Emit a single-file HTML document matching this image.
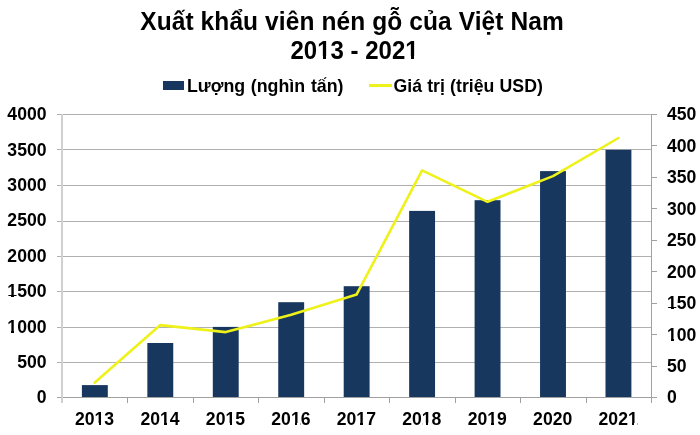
<!DOCTYPE html>
<html><head><meta charset="utf-8">
<style>
html,body{margin:0;padding:0;background:#fff;}
body{width:700px;height:435px;overflow:hidden;position:relative;font-family:"Liberation Sans",sans-serif;font-weight:bold;color:#000;}
.t{position:absolute;white-space:nowrap;line-height:1;filter:grayscale(1);}
.lg{font-size:17.8px;word-spacing:0.8px;}
.yl{width:60px;text-align:right;font-size:17.6px;}
.yr{font-size:17.6px;}
.xl{width:60px;text-align:center;font-size:17.6px;}
.one{position:relative;}
.one::before,.one::after{content:"";position:absolute;bottom:0.205em;height:0.112em;background:#fff;}
.one::before{left:0.05em;width:0.183em;}
.one::after{left:0.3706em;width:0.172em;}
svg{position:absolute;left:0;top:0;}
</style></head><body>
<svg width="700" height="435" viewBox="0 0 700 435">

<g fill="#b0b0b0">
<rect x="57" y="114" width="594.5" height="1"/>
<rect x="57" y="149" width="594.5" height="1"/>
<rect x="57" y="185" width="594.5" height="1"/>
<rect x="57" y="221" width="594.5" height="1"/>
<rect x="57" y="256" width="594.5" height="1"/>
<rect x="57" y="291" width="594.5" height="1"/>
<rect x="57" y="327" width="594.5" height="1"/>
<rect x="57" y="362" width="594.5" height="1"/>
</g>
<g fill="#17375e">
<rect x="81.90" y="385.10" width="25.90" height="12.40"/>
<rect x="147.35" y="343.00" width="25.90" height="54.50"/>
<rect x="212.80" y="326.90" width="25.90" height="70.60"/>
<rect x="278.25" y="302.20" width="25.90" height="95.30"/>
<rect x="343.70" y="286.20" width="25.90" height="111.30"/>
<rect x="409.15" y="210.90" width="25.90" height="186.60"/>
<rect x="474.60" y="200.20" width="25.90" height="197.30"/>
<rect x="540.05" y="171.10" width="25.90" height="226.40"/>
<rect x="605.50" y="149.80" width="25.90" height="247.70"/>
</g>
<g fill="#a0a0a0">
<rect x="57" y="397" width="599" height="1"/>
<rect x="651" y="114" width="1" height="289"/>
<rect x="652" y="397" width="5" height="1"/>
<rect x="652" y="366" width="5" height="1"/>
<rect x="652" y="334" width="5" height="1"/>
<rect x="652" y="303" width="5" height="1"/>
<rect x="652" y="271" width="5" height="1"/>
<rect x="652" y="240" width="5" height="1"/>
<rect x="652" y="208" width="5" height="1"/>
<rect x="652" y="177" width="5" height="1"/>
<rect x="652" y="145" width="5" height="1"/>
<rect x="652" y="114" width="5" height="1"/>
<rect x="127" y="398" width="1" height="5"/>
<rect x="193" y="398" width="1" height="5"/>
<rect x="258" y="398" width="1" height="5"/>
<rect x="324" y="398" width="1" height="5"/>
<rect x="389" y="398" width="1" height="5"/>
<rect x="455" y="398" width="1" height="5"/>
<rect x="520" y="398" width="1" height="5"/>
<rect x="586" y="398" width="1" height="5"/>
</g>
<rect x="61" y="114" width="2" height="289" fill="#d0d0d0"/>
<polyline fill="none" stroke="#eef21a" stroke-width="2.6" stroke-linejoin="round" stroke-linecap="round" points="94.85,382.60 160.30,325.10 225.75,332.10 291.20,314.80 356.65,294.40 422.10,170.40 487.55,201.80 553.00,176.10 618.45,138.00"/>
<rect x="163" y="81" width="21" height="9" fill="#17375e"/>
<rect x="369" y="84" width="23" height="3" fill="#eef21a"/>
</svg>
<div class="t" style="left:140.2px;top:9.5px;font-size:24.5px;letter-spacing:0.1px;transform:scaleY(1.05);transform-origin:0 80%">Xuất khẩu viên nén gỗ của Việt Nam</div>
<div class="t" style="left:290.5px;top:38.5px;font-size:24px;transform:scaleY(1.05);transform-origin:0 80%">20<span class="one">1</span>3 - 202<span class="one">1</span></div>
<div class="t lg" style="left:187px;top:78px">Lượng (nghìn tấn)</div>
<div class="t lg" style="left:393.5px;top:78px;font-size:17.7px;word-spacing:0.3px">Giá trị (triệu USD)</div>
<div class="t yl" style="left:-13.5px;top:389.30px">0</div>
<div class="t yl" style="left:-13.5px;top:353.92px">500</div>
<div class="t yl" style="left:-13.5px;top:318.55px"><span class="one">1</span>000</div>
<div class="t yl" style="left:-13.5px;top:283.17px"><span class="one">1</span>500</div>
<div class="t yl" style="left:-13.5px;top:247.80px">2000</div>
<div class="t yl" style="left:-13.5px;top:212.43px">2500</div>
<div class="t yl" style="left:-13.5px;top:177.05px">3000</div>
<div class="t yl" style="left:-13.5px;top:141.68px">3500</div>
<div class="t yl" style="left:-13.5px;top:106.30px">4000</div>
<div class="t yr" style="left:667px;top:389.40px">0</div>
<div class="t yr" style="left:667px;top:357.96px">50</div>
<div class="t yr" style="left:667px;top:326.51px"><span class="one">1</span>00</div>
<div class="t yr" style="left:667px;top:295.07px"><span class="one">1</span>50</div>
<div class="t yr" style="left:667px;top:263.62px">200</div>
<div class="t yr" style="left:667px;top:232.18px">250</div>
<div class="t yr" style="left:667px;top:200.73px">300</div>
<div class="t yr" style="left:667px;top:169.29px">350</div>
<div class="t yr" style="left:667px;top:137.84px">400</div>
<div class="t yr" style="left:667px;top:106.40px">450</div>
<div class="t xl" style="left:64.55px;top:410.5px">20<span class="one">1</span>3</div>
<div class="t xl" style="left:130.00px;top:410.5px">20<span class="one">1</span>4</div>
<div class="t xl" style="left:195.45px;top:410.5px">20<span class="one">1</span>5</div>
<div class="t xl" style="left:260.90px;top:410.5px">20<span class="one">1</span>6</div>
<div class="t xl" style="left:326.35px;top:410.5px">20<span class="one">1</span>7</div>
<div class="t xl" style="left:391.80px;top:410.5px">20<span class="one">1</span>8</div>
<div class="t xl" style="left:457.25px;top:410.5px">20<span class="one">1</span>9</div>
<div class="t xl" style="left:522.70px;top:410.5px">2020</div>
<div class="t xl" style="left:588.15px;top:410.5px">202<span class="one">1</span></div>
</body></html>
